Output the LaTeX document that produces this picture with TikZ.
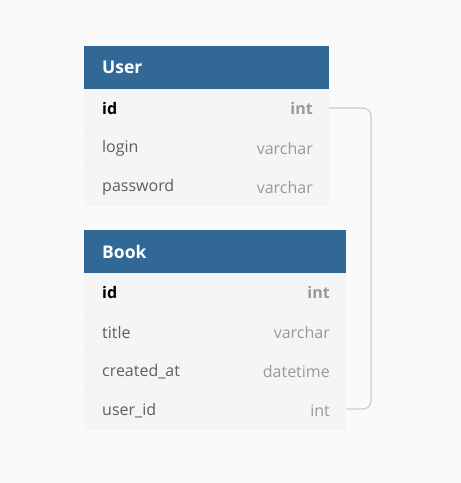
\documentclass[tikz,border=0pt]{standalone}
\usepackage{fontspec}
\setmainfont{Open Sans}
\definecolor{bg}{HTML}{FAFAFA}
\definecolor{hdr}{HTML}{316896}
\definecolor{rowbg}{HTML}{F5F5F5}
\definecolor{sep}{HTML}{F1F1F1}
\definecolor{fname}{HTML}{5E5E5E}
\definecolor{ftype}{HTML}{999999}
\definecolor{link}{HTML}{CCCCCC}
\begin{document}
\begin{tikzpicture}[x=1pt,y=-1pt,
  hdrbox/.style={fill=hdr,draw=none},
  rowbox/.style={fill=rowbg,draw=none},
  hdrtext/.style={anchor=west,text=white,font=\fontsize{17.5}{19}\selectfont\bfseries,inner sep=0pt},
  nametext/.style={anchor=west,text=fname,font=\fontsize{16}{18}\selectfont,inner sep=0pt},
  typetext/.style={anchor=east,text=ftype,font=\fontsize{16}{18}\selectfont,inner sep=0pt},
  pkname/.style={nametext,text=black,font=\fontsize{16}{18}\selectfont\bfseries},
  pktype/.style={typetext,text=ftype,font=\fontsize{16}{18}\selectfont\bfseries},
  linkline/.style={draw=link,line width=1.2pt,rounded corners=8pt}]
\fill[bg] (0,0) rectangle (461,483);
\useasboundingbox (0,0) rectangle (461,483);
% User table
\fill[hdrbox] (84,46) rectangle (329,89);
\node[hdrtext] (userh) at (102,67.5) {User};
\fill[rowbox] (84,89) rectangle (329,206);
\draw[sep,line width=0.6pt] (84,128) -- (329,128) (84,167) -- (329,167);
\node[pkname] (uidn) at (102,108.5) {id};
\node[pktype] (uidt) at (313,108.5) {int};
\node[nametext] (uloginn) at (102,148.5) {login};
\node[typetext] (ulogint) at (313,148.5) {varchar};
\node[nametext] (upassn) at (102,187.5) {password};
\node[typetext] (upasst) at (313,187.5) {varchar};
\coordinate (uidr) at (329,108);
% Book table
\fill[hdrbox] (84,230) rectangle (346,273);
\node[hdrtext] (bookh) at (102,251.5) {Book};
\fill[rowbox] (84,273) rectangle (346,430);
\draw[sep,line width=0.6pt] (84,312) -- (346,312) (84,351) -- (346,351) (84,390) -- (346,390);
\node[pkname] (bidn) at (102,292.5) {id};
\node[pktype] (bidt) at (330,292.5) {int};
\node[nametext] (btitlen) at (102,332.5) {title};
\node[typetext] (btitlet) at (330,332.5) {varchar};
\node[nametext] (bcreatedn) at (102,371.5) {created\_at};
\node[typetext] (bcreatedt) at (330,371.5) {datetime};
\node[nametext] (buidn) at (102,410.5) {user\_id};
\node[typetext] (buidt) at (330,410.5) {int};
\coordinate (buidr) at (346,409);
% connector
\draw[linkline] (uidr) -- (371,108) -- (371,409) -- (buidr);
\end{tikzpicture}
\end{document}
